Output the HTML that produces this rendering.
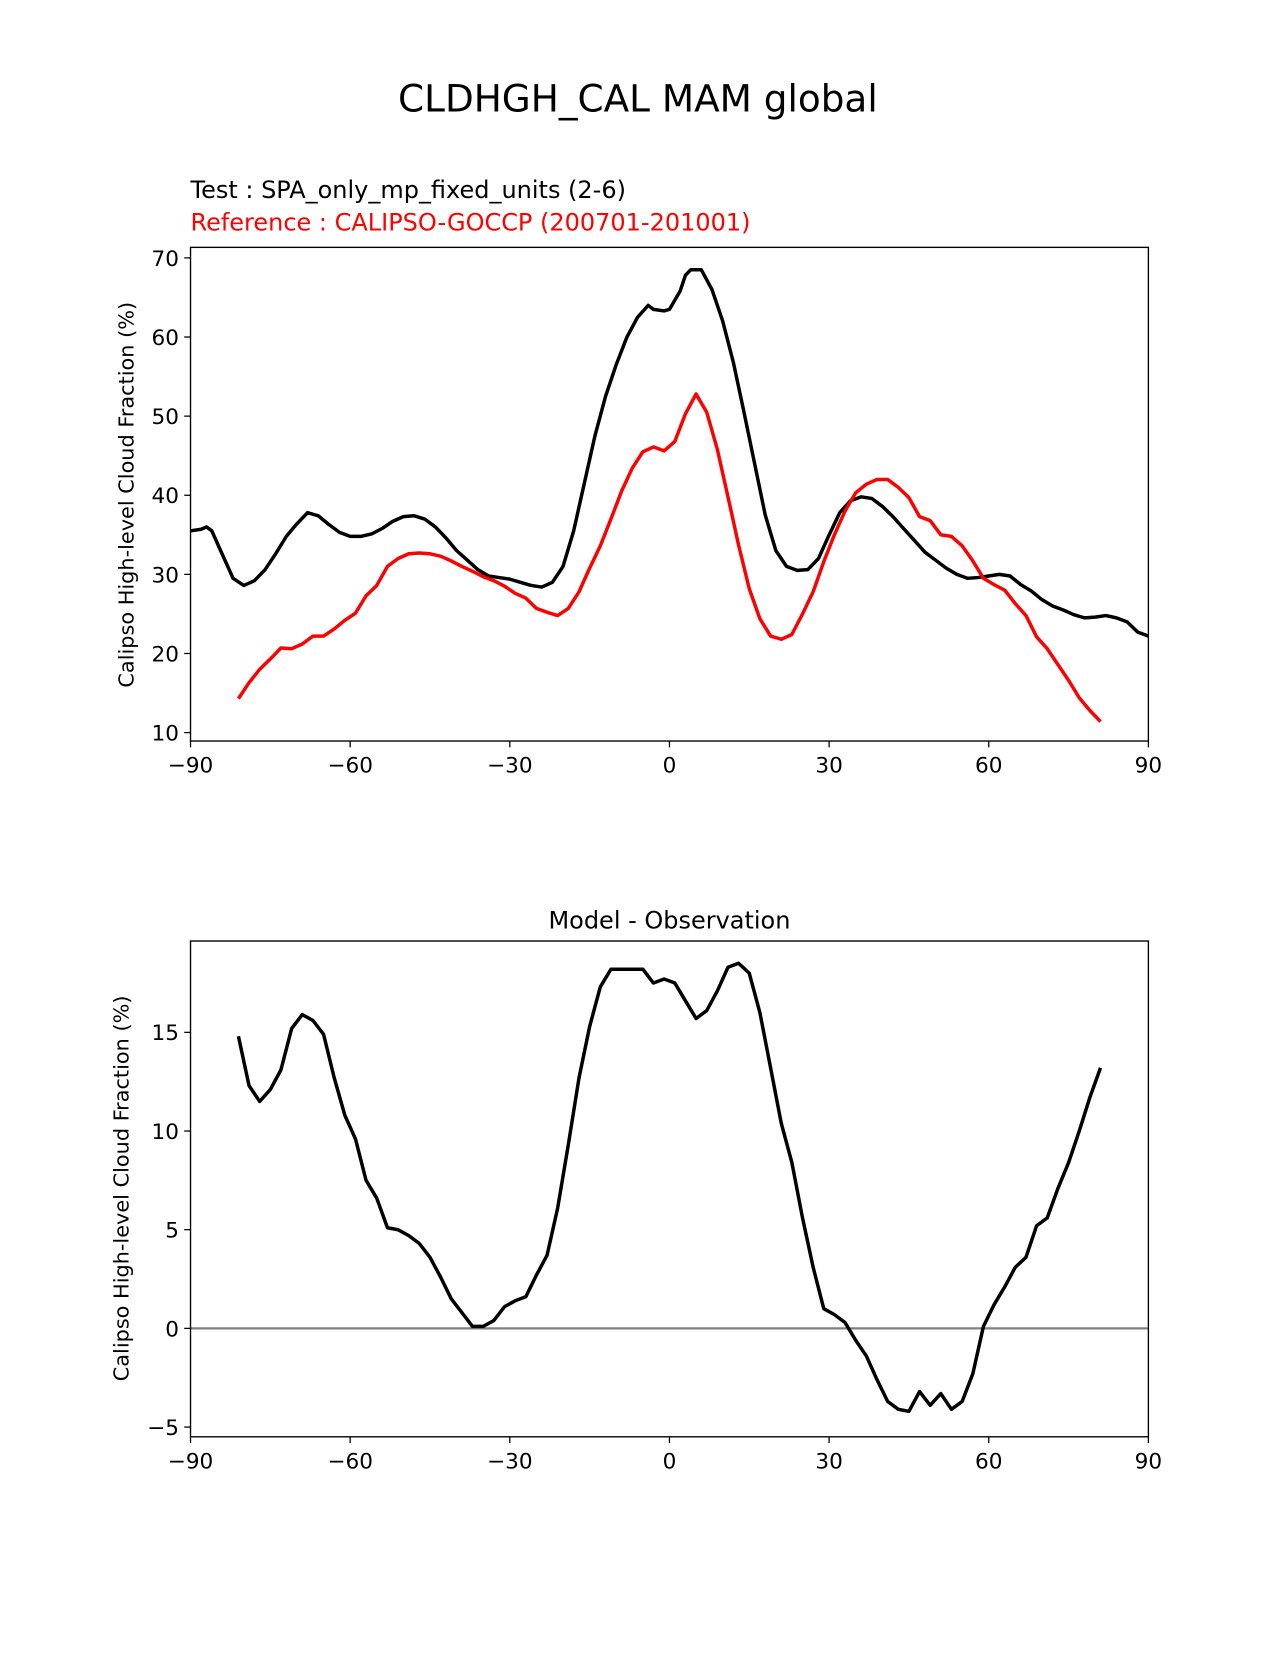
<!DOCTYPE html>
<html><head><meta charset="utf-8"><style>
body{margin:0;background:#fff;}
svg text{font-family:"DejaVu Sans","Liberation Sans",sans-serif;}
</style></head><body>
<svg id="fig" width="1275" height="1650" viewBox="0 0 1275 1650" xmlns="http://www.w3.org/2000/svg">
<rect width="1275" height="1650" fill="#fff"/>
<g transform="scale(1.0526)">
<text x="606" y="106" font-size="35.5" text-anchor="middle">CLDHGH_CAL MAM global</text>
<text x="181" y="188" font-size="22.8">Test : SPA_only_mp_fixed_units (2-6)</text>
<text x="181" y="219" font-size="22.8" fill="#ff0000">Reference : CALIPSO-GOCCP (200701-201001)</text>
<text x="636" y="882" font-size="22.8" text-anchor="middle">Model - Observation</text>
<g id="topPanel"></g>
<g id="botPanel"></g>
</g>
</svg>
<script>
const modelLat = [-90,-88,-87,-86,-84,-82,-80,-78,-76,-74,-72,-70,-68,-66,-64,-62,-60,-58,-56,-54,-52,-50,-48,-46,-44,-42,-40,-38,-36,-34,-32,-30,-28,-26,-24,-22,-20,-18,-16,-14,-12,-10,-8,-6,-4,-3,-1,0,2,3,4,6,8,10,12,14,16,18,20,22,24,26,28,30,32,34,36,38,40,42,44,46,48,50,52,54,56,58,60,62,64,66,68,70,72,74,76,78,80,82,84,86,88,90];
const modelVals = [35.5,35.7,36.0,35.5,32.5,29.5,28.6,29.2,30.6,32.6,34.8,36.4,37.8,37.4,36.3,35.3,34.8,34.8,35.1,35.8,36.7,37.3,37.4,37.0,36.0,34.6,33.0,31.8,30.6,29.8,29.6,29.4,29.0,28.6,28.4,29.0,31.0,35.5,41.5,47.5,52.5,56.5,60.0,62.5,64.0,63.5,63.3,63.5,65.8,67.8,68.5,68.5,66.0,62.0,56.8,50.5,44.0,37.5,33.0,31.0,30.5,30.6,32.0,35.0,37.8,39.3,39.8,39.6,38.6,37.3,35.8,34.3,32.8,31.8,30.8,30.0,29.5,29.6,29.8,30.0,29.8,28.7,27.9,26.8,26.0,25.5,24.9,24.5,24.6,24.8,24.5,24.0,22.7,22.2];
const obsLat = [];
for (let v=-81; v<=81; v+=2) obsLat.push(v);
const obsVals = [14.3,16.3,18.0,19.3,20.7,20.6,21.2,22.2,22.2,23.1,24.2,25.1,27.3,28.6,31.0,32.0,32.6,32.7,32.6,32.3,31.7,31.0,30.4,29.7,29.2,28.5,27.6,27.0,25.7,25.2,24.8,25.7,27.8,30.8,33.6,37.0,40.5,43.4,45.5,46.1,45.6,46.8,50.3,52.8,50.5,45.8,39.8,33.7,28.2,24.4,22.2,21.8,22.4,25.0,27.8,31.6,35.0,38.0,40.3,41.4,42.0,42.0,41.0,39.7,37.3,36.8,35.0,34.8,33.6,31.7,29.5,28.7,28.0,26.3,24.8,22.1,20.6,18.6,16.6,14.4,12.8,11.4];
const diffVals = [14.8,12.3,11.5,12.1,13.1,15.2,15.9,15.6,14.9,12.7,10.8,9.6,7.5,6.6,5.1,5.0,4.7,4.3,3.6,2.6,1.5,0.8,0.1,0.1,0.4,1.1,1.4,1.6,2.7,3.7,6.1,9.3,12.7,15.3,17.3,18.2,18.2,18.2,18.2,17.5,17.7,17.5,16.6,15.7,16.1,17.1,18.3,18.5,18.0,16.0,13.2,10.4,8.4,5.6,3.1,1.0,0.7,0.3,-0.6,-1.4,-2.6,-3.7,-4.1,-4.2,-3.2,-3.9,-3.3,-4.1,-3.7,-2.3,0.1,1.2,2.1,3.1,3.6,5.2,5.6,7.1,8.4,10.0,11.7,13.2];
const xTicks = [-90,-60,-30,0,30,60,90];
const xTickLabels = ["\u221290","\u221260","\u221230","0","30","60","90"];
const topYTicks = [10,20,30,40,50,60,70];
const botYTicks = [-5,0,5,10,15];
const botYTickLabels = ["\u22125","0","5","10","15"];

const NS="http://www.w3.org/2000/svg";
function mk(parent, tag, attrs){const e=document.createElementNS(NS,tag);for(const k in attrs)e.setAttribute(k,attrs[k]);parent.appendChild(e);return e;}
const xs = v => 181 + (v+90)*(910/180);
const yTop = v => 696 - (v-10)*(451/60);
const yBot = v => 1262 - v*18.75;

function axes(g, top, bottom, yfn, yticks, ylabels, labelY, labelX, name){
  for (let i=0;i<xTicks.length;i++){
    const x=xs(xTicks[i]);
    const t=mk(g,'line',{x1:x,x2:x,y1:bottom,y2:bottom+6,stroke:'#000','stroke-width':1.2});
    
    
    const l=mk(g,'text',{x:x,y:bottom+30,'font-size':20.5,'text-anchor':'middle'});
    l.textContent=xTickLabels[i];
    
    
  }
  for (let i=0;i<yticks.length;i++){
    const y=yfn(yticks[i]);
    const t=mk(g,'line',{x1:175,x2:181,y1:y,y2:y,stroke:'#000','stroke-width':1.2});
    
    
    const l=mk(g,'text',{x:170,y:y+7.5,'font-size':20.5,'text-anchor':'end'});
    l.textContent=ylabels[i];
    
    
  }
  const yl=mk(g,'text',{x:0,y:0,'font-size':19.8,'text-anchor':'middle',transform:`translate(${labelX},${labelY}) rotate(-90)`});
  yl.textContent='Calipso High-level Cloud Fraction (%)';
  
  
}
function line(g, lats, vals, yfn, color, name){
  const d = lats.map((la,i)=>(i?'L':'M')+xs(la).toFixed(1)+','+yfn(vals[i]).toFixed(1)).join(' ');
  const p=mk(g,'path',{d:d,fill:'none',stroke:color,'stroke-width':3.3,'stroke-linejoin':'round'});
  
  
}
function frame(g, top, bottom, name){
  const r=mk(g,'rect',{x:181,y:top,width:910,height:bottom-top,fill:'none',stroke:'#000','stroke-width':1.3});
  
  
}
const topG=document.getElementById('topPanel');
const clipT=mk(topG,'clipPath',{id:'ct'}); mk(clipT,'rect',{x:181,y:235,width:910,height:469});
const gT=mk(topG,'g',{'clip-path':'url(#ct)'});
line(gT, modelLat, modelVals, yTop, '#000', 'model-line');
line(gT, obsLat, obsVals, yTop, '#ff0000', 'observation-line');
frame(topG,235,704,'top');
axes(topG,235,704,yTop,topYTicks,topYTicks.map(String),470,127,'top');

const botG=document.getElementById('botPanel');
const zl=mk(botG,'line',{x1:181,x2:1091,y1:yBot(0),y2:yBot(0),stroke:'#808080','stroke-width':2.2});


line(botG, obsLat, diffVals, yBot, '#000', 'difference-line');
frame(botG,894,1365,'bottom');
axes(botG,894,1365,yBot,botYTicks,botYTickLabels,1129,122,'bottom');
</script>
</body></html>
